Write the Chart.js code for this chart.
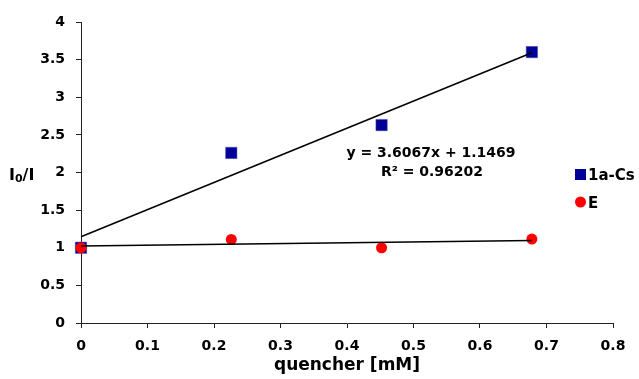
<!DOCTYPE html>
<html><head><meta charset="utf-8">
<script src="https://cdn.jsdelivr.net/npm/chart.js@4"></script>
<style>html,body{margin:0;padding:0;background:#fff}#wrap{width:639px;height:379px}</style>
</head><body><div id="wrap"><canvas id="c" width="639" height="379"></canvas></div>
<script>
const quencher = [0, 0.226, 0.452, 0.678];
const series1aCs = [1.0, 2.26, 2.63, 3.60];
const seriesE = [1.0, 1.11, 1.00, 1.115];
const trend1aCsX = [0, 0.678];
const trend1aCsY = [1.147, 3.592];
const trendEX = [0, 0.678];
const trendEY = [1.022, 1.095];
const xTicks = [0, 0.1, 0.2, 0.3, 0.4, 0.5, 0.6, 0.7, 0.8];
const yTicks = [0, 0.5, 1, 1.5, 2, 2.5, 3, 3.5, 4];
const equationText = 'y = 3.6067x + 1.1469';
const r2Text = 'R\u00B2 = 0.96202';
const legendLabels = ['1a-Cs', 'E'];

const FONT = '"DejaVu Sans", sans-serif';
const pts = (xs, ys) => xs.map((x, i) => ({x, y: ys[i]}));

const overlay = {
  id: 'overlay',
  afterDraw(chart) {
    const ctx = chart.ctx;
    ctx.save();
    ctx.fillStyle = '#000';
    ctx.font = 'bold 14px ' + FONT;
    ctx.textBaseline = 'middle';
    ctx.textAlign = 'center';
    ctx.fillText(equationText, 431, 153);
    ctx.fillText(r2Text, 432, 172);
    // y title
    ctx.textAlign = 'left';
    ctx.font = 'bold 16px ' + FONT;
    ctx.fillText('I', 9, 176);
    let w = ctx.measureText('I').width;
    ctx.font = 'bold 11px ' + FONT;
    ctx.fillText('0', 9 + w, 179);
    let w2 = ctx.measureText('0').width;
    ctx.font = 'bold 16px ' + FONT;
    ctx.fillText('/I', 9 + w + w2, 176);
    // legend
    ctx.fillStyle = '#000099';
    ctx.fillRect(575, 169, 11, 11);
    ctx.fillStyle = '#ff0000';
    ctx.beginPath(); ctx.arc(580.5, 202, 5.5, 0, Math.PI * 2); ctx.fill();
    ctx.fillStyle = '#000';
    ctx.font = 'bold 15px ' + FONT;
    ctx.fillText(legendLabels[0], 588, 176);
    ctx.fillText(legendLabels[1], 588, 204);
    ctx.restore();
  }
};

new Chart(document.getElementById('c'), {
  type: 'scatter',
  data: {
    datasets: [
      {label: 'trend1aCs', type: 'line', order: 0, data: pts(trend1aCsX, trend1aCsY), borderColor: '#000', borderWidth: 1.5, pointRadius: 0, showLine: true, fill: false},
      {label: 'trendE', type: 'line', order: 0, data: pts(trendEX, trendEY), borderColor: '#000', borderWidth: 1.5, pointRadius: 0, showLine: true, fill: false},
      {label: legendLabels[0], order: 2, data: pts(quencher, series1aCs), pointStyle: 'rect', pointRadius: 8, backgroundColor: '#000099', borderColor: '#4444aa', borderWidth: 0.5},
      {label: legendLabels[1], order: 1, data: pts(quencher, seriesE), pointStyle: 'circle', pointRadius: 5.5, backgroundColor: '#ff0000', borderColor: '#ff0000', borderWidth: 0}
    ]
  },
  options: {
    responsive: false,
    animation: false,
    clip: false,
    layout: {padding: {left: 0, right: 26, top: 22, bottom: 0}},
    plugins: {legend: {display: false}, tooltip: {enabled: false}},
    scales: {
      x: {
        type: 'linear', min: 0, max: 0.8,
        afterBuildTicks: s => { s.ticks = xTicks.map(v => ({value: v})); },
        afterFit: s => { s.height = 56; },
        grid: {display: true, drawOnChartArea: false, drawTicks: true, tickLength: 5, tickColor: '#222', tickWidth: 1},
        border: {color: '#222', width: 1},
        ticks: {color: '#000', font: {family: FONT, size: 14, weight: 'bold'}, padding: 10, maxRotation: 0, callback: v => String(v)},
        title: {display: true, text: 'quencher [mM]', color: '#000', font: {family: FONT, size: 17, weight: 'bold'}, padding: {top: 0, bottom: 3}}
      },
      y: {
        type: 'linear', min: 0, max: 4,
        afterBuildTicks: s => { s.ticks = yTicks.map(v => ({value: v})); },
        afterFit: s => { s.width = 81; },
        grid: {display: true, drawOnChartArea: false, drawTicks: true, tickLength: 5, tickColor: '#222', tickWidth: 1},
        border: {color: '#222', width: 1},
        ticks: {color: '#000', font: {family: FONT, size: 14, weight: 'bold'}, padding: 11, callback: v => String(v)}
      }
    }
  },
  plugins: [overlay]
});
</script>
</body></html>
